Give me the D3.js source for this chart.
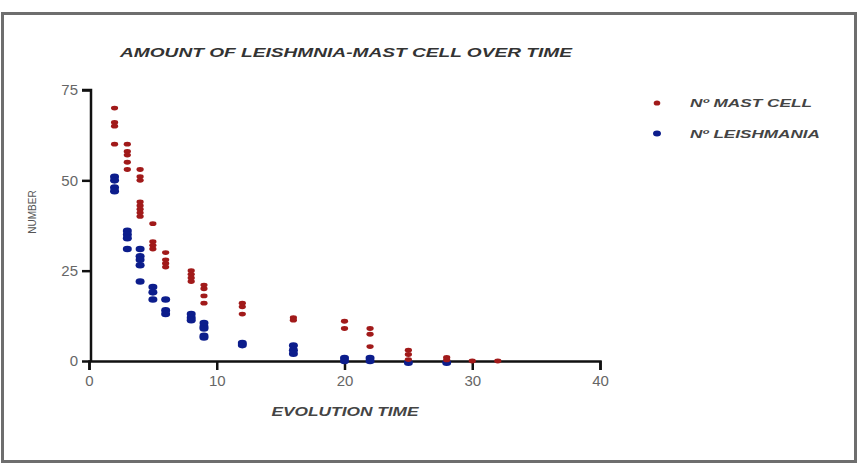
<!DOCTYPE html>
<html>
<head>
<meta charset="utf-8">
<script src="https://cdn.jsdelivr.net/npm/d3@7"></script>
<style>
  body { margin: 0; background: #fff; }
  text { font-family: "Liberation Sans", Arial, sans-serif; }
</style>
</head>
<body>
<div id="my_dataviz"></div>
<script>
// data: [time, number]
var mastCell = [
  [2,70],[2,66],[2,65],[2,60],
  [3,60],[3,58],[3,57],[3,55],[3,53],
  [4,53],[4,51],[4,50],[4,44],[4,43],[4,42],[4,41],[4,40],
  [5,38],[5,33],[5,32],[5,31],
  [6,30],[6,28],[6,27],[6,26],
  [8,25],[8,24],[8,23],[8,22],
  [9,21],[9,20],[9,18],[9,16],
  [12,16],[12,15],[12,13],
  [16,12],[16,11.3],
  [20,11],[20,9],
  [22,9],[22,7.4],[22,4],
  [25,3],[25,1.8],[25,0.4],
  [28,1],[28,0.3],
  [30,0],
  [32,0]
];
var leishmania = [
  [2,51],[2,50],[2,48],[2,47],
  [3,36],[3,35],[3,34],[3,31],
  [4,31],[4,29],[4,28],[4,26.5],[4,22],
  [5,20.5],[5,19],[5,17],
  [6,17],[6,14],[6,13],
  [8,13],[8,12],[8,11.3],
  [9,10.5],[9,9.5],[9,9],[9,7],[9,6.5],
  [12,5],[12,4.4],
  [16,4.3],[16,3],[16,2],
  [20,0.8],[20,0],
  [22,0.8],[22,0],
  [25,-0.5],
  [28,-0.5]
];
var xTicks = [0, 10, 20, 30, 40];
var yTicks = [0, 25, 50, 75];
var seriesNames = ["N\u00BA MAST CELL", "N\u00BA LEISHMANIA"];
var seriesColors = ["#a11a1a", "#0c1d8c"];

var W = 858, H = 465;
var margin = {top: 90, right: 258, bottom: 104, left: 89},
    width = W - margin.left - margin.right,
    height = H - margin.top - margin.bottom;

var root = d3.select("#my_dataviz")
  .append("svg")
    .attr("width", W)
    .attr("height", H);

// outer frame
root.append("rect")
  .attr("x", 2.5).attr("y", 13.5)
  .attr("width", 853).attr("height", 448)
  .attr("fill", "none")
  .attr("stroke", "#6e6e6e")
  .attr("stroke-width", 3);

var svg = root.append("g")
  .attr("transform", "translate(" + margin.left + "," + margin.top + ")");

var x = d3.scaleLinear().domain([0, 40]).range([0, width]);
var y = d3.scaleLinear().domain([0, 75]).range([height, 0]);

// X axis
var xAxis = svg.append("g")
  .attr("transform", "translate(0," + height + ")")
  .call(d3.axisBottom(x).tickValues(xTicks).tickSize(9).tickPadding(5));

// Y axis
var yAxis = svg.append("g")
  .attr("transform", "translate(2,0)")
  .call(d3.axisLeft(y).tickValues(yTicks).tickSize(9).tickPadding(4));

[xAxis, yAxis].forEach(function(a) {
  a.select(".domain").attr("stroke", "#111").attr("stroke-width", 2.5);
  a.selectAll(".tick line").attr("stroke", "#111").attr("stroke-width", 2.5);
  a.selectAll(".tick text")
    .attr("fill", "#666")
    .attr("font-size", "15px")
    .style("font-family", "'Liberation Sans', Arial, sans-serif");
});
yAxis.select(".domain").attr("d", "M-9," + y(75) + "H0V" + height);

// points
function drawSeries(data, color, rx, ry) {
  svg.append("g").selectAll("ellipse")
    .data(data)
    .enter()
    .append("ellipse")
      .attr("cx", function(d) { return x(d[0]); })
      .attr("cy", function(d) { return y(d[1]); })
      .attr("rx", rx)
      .attr("ry", ry)
      .attr("fill", color);
}
drawSeries(leishmania, seriesColors[1], 4.5, 3.3);
drawSeries(mastCell, seriesColors[0], 3.6, 2.4);

// title
root.append("text")
  .attr("x", 346)
  .attr("y", 57)
  .attr("text-anchor", "middle")
  .attr("font-size", "13px")
  .attr("font-weight", "bold")
  .attr("font-style", "italic")
  .attr("fill", "#333")
  .attr("textLength", 452)
  .attr("lengthAdjust", "spacingAndGlyphs")
  .text("AMOUNT OF LEISHMNIA-MAST CELL OVER TIME");

// x axis label
root.append("text")
  .attr("x", 345)
  .attr("y", 416)
  .attr("text-anchor", "middle")
  .attr("font-size", "12px")
  .attr("font-weight", "bold")
  .attr("font-style", "italic")
  .attr("fill", "#444")
  .attr("textLength", 147)
  .attr("lengthAdjust", "spacingAndGlyphs")
  .text("EVOLUTION TIME");

// y axis label
root.append("text")
  .attr("transform", "translate(36,212) rotate(-90)")
  .attr("text-anchor", "middle")
  .attr("font-size", "10px")
  .attr("fill", "#555")
  .text("NUMBER");

// legend
var legend = root.append("g");
[0, 1].forEach(function(i) {
  var ly = 103 + i * 30.5;
  legend.append("ellipse")
    .attr("cx", 657).attr("cy", ly)
    .attr("rx", i ? 4 : 3.3).attr("ry", i ? 3 : 2.6)
    .attr("fill", seriesColors[i]);
  legend.append("text")
    .attr("x", 690).attr("y", ly + 4)
    .attr("font-size", "11px")
    .attr("font-weight", "bold")
    .attr("font-style", "italic")
    .attr("fill", "#444")
    .attr("textLength", i ? 130 : 122)
    .attr("lengthAdjust", "spacingAndGlyphs")
    .text(seriesNames[i]);
});
</script>
</body>
</html>
